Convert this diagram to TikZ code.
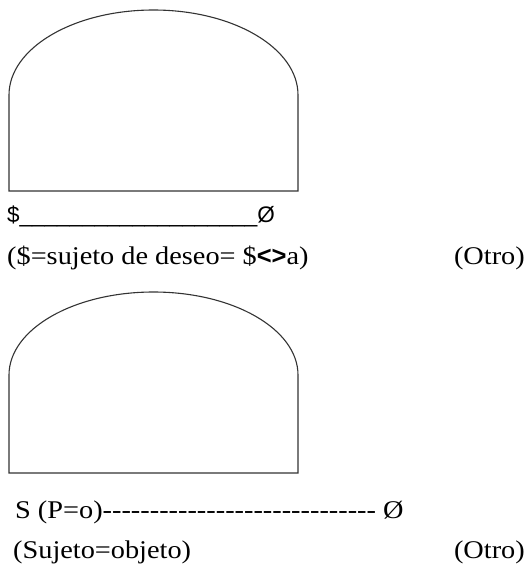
\documentclass[tikz,border=0pt]{standalone}
\usepackage{fontspec}
\setmainfont{Liberation Serif}[FakeStretch=1.11,Ligatures=TeXOff]
\setsansfont{Liberation Sans}[Ligatures=TeXOff]
\begin{document}
\begin{tikzpicture}[x=1pt,y=-1pt,
  dome/.style={draw=black!80,line width=1.1pt},
  txt/.style={anchor=base west,inner sep=0pt,font=\fontsize{25.5}{28}\selectfont},
  endtxt/.style={anchor=base east,inner sep=0pt,font=\fontsize{25.5}{28}\selectfont},
  sanstxt/.style={anchor=base west,inner sep=0pt,font=\fontsize{22.5}{26}\sffamily}]
\useasboundingbox (0,0) rectangle (527,576);
\draw[dome] (9,191) -- (9,95) arc[start angle=180,end angle=360,x radius=144.5,y radius=85]
  -- (298,191) -- cycle;
\draw[dome] (9,473) -- (9,375) arc[start angle=180,end angle=360,x radius=144.5,y radius=83]
  -- (298,473) -- cycle;
\node[sanstxt] (l1) at (7,222) {\$\_\_\_\_\_\_\_\_\_\_\_\_\_\_\_\_\_\_\_Ø};
\node[txt] (l2) at (7,264) {(\$=sujeto de deseo= \$\textsf{\textbf{<>}}a)};
\node[endtxt] (o1) at (525,264) {(Otro)};
\node[txt] (l3) at (15,518) {S (P=o)----------------------------- Ø};
\node[txt] (l4) at (13,558) {(Sujeto=objeto)};
\node[endtxt] (o2) at (525,558) {(Otro)};
\end{tikzpicture}
\end{document}
